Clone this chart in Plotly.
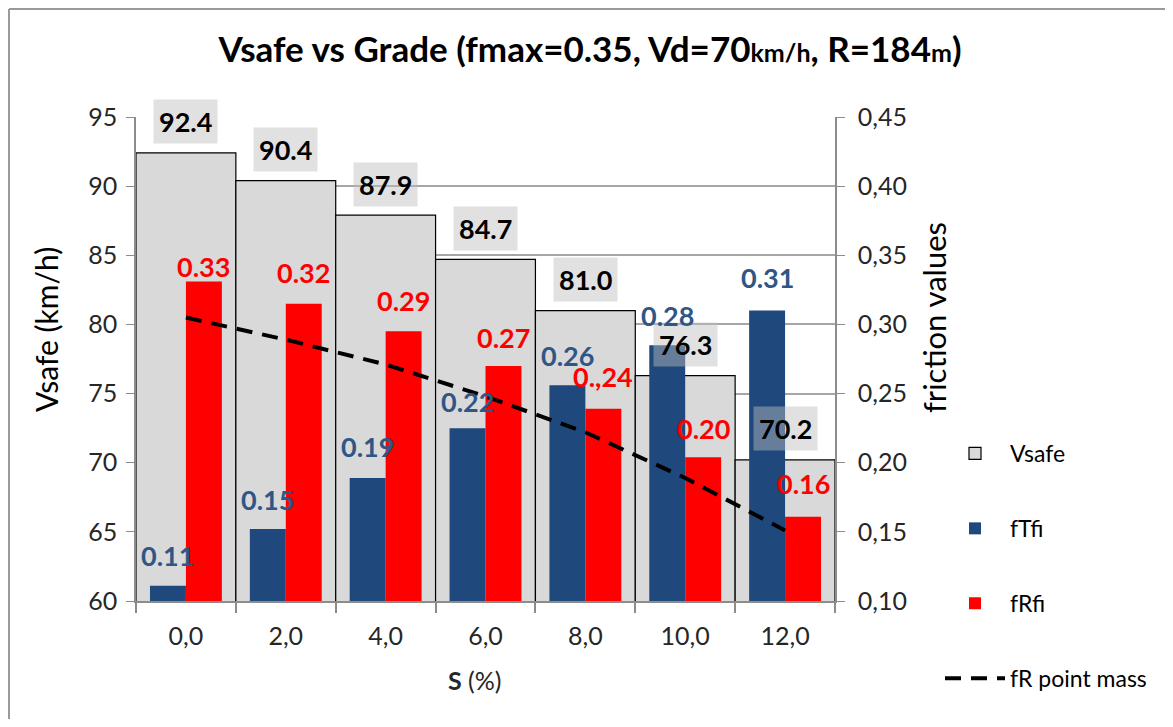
import plotly.graph_objects as go

# ---- data ----
grades = [0, 2, 4, 6, 8, 10, 12]
grade_labels = ["0,0", "2,0", "4,0", "6,0", "8,0", "10,0", "12,0"]
vsafe = [92.4, 90.4, 87.9, 84.7, 81.0, 76.3, 70.2]
vsafe_text = ["92.4", "90.4", "87.9", "84.7", "81.0", "76.3", "70.2"]
fT = [0.111, 0.152, 0.189, 0.225, 0.256, 0.285, 0.31]
fT_text = ["0.11", "0.15", "0.19", "0.22", "0.26", "0.28", "0.31"]
fR = [0.331, 0.315, 0.295, 0.27, 0.239, 0.204, 0.161]
fR_text = ["0.33", "0.32", "0.29", "0.27", "0.,24", "0.20", "0.16"]
fR_point_mass = [0.305, 0.289, 0.271, 0.248, 0.222, 0.189, 0.151]

# label vertical offsets (px above bar top), hand-placed in the original
fT_shift = [30, 30, 31, 27, 30, 30, 33]
fR_shift = [15, 31, 31, 28, 32, 29, 33]

FONT = "Lato, 'Open Sans', sans-serif"
BLUE = "#1f497d"
RED = "#ff0000"
GREY = "#d9d9d9"

# the page body has an 8px margin; size the figure so it fits the window
OFF = 8
W, H = 1173 - 2 * OFF, 727 - 2 * OFF
PW, PH = 699, 484
ML, MT = 136 - OFF, 117 - OFF
MR, MB = W - ML - PW, H - MT - PH

def px_x(px):
    return (px - OFF - ML) / PW

def px_y(py):
    return (H - MB - (py - OFF)) / PH

fig = go.Figure()

fig.add_trace(go.Bar(
    x=grades, y=vsafe, name="Vsafe", width=2, offset=-1,
    marker=dict(color=GREY, line=dict(color="black", width=1.2)),
    yaxis="y", legendgroup="a",
))
fig.add_trace(go.Bar(
    x=grades, y=fT, name="fTfi", width=0.72, offset=-0.72,
    marker=dict(color=BLUE, line=dict(width=0)),
    yaxis="y2", legendgroup="b",
))
fig.add_trace(go.Bar(
    x=grades, y=fR, name="fRfi", width=0.72, offset=0,
    marker=dict(color=RED, line=dict(width=0)),
    yaxis="y2", legendgroup="c",
))
fig.add_trace(go.Scatter(
    x=grades, y=fR_point_mass, name="fR point mass", mode="lines",
    line=dict(color="black", width=4, dash="16px,10px"),
    yaxis="y2", legendgroup="d",
))

annotations = []
for g, v, t in zip(grades, vsafe, vsafe_text):
    annotations.append(dict(
        x=g, y=v, xref="x", yref="y", text=t, showarrow=False,
        yshift=31, font=dict(family=FONT, size=27, color="black", weight="bold"),
        bgcolor="rgba(190,190,190,0.46)", borderpad=5,
    ))
for g, v, t, s in zip(grades, fT, fT_text, fT_shift):
    annotations.append(dict(
        x=g - 0.36, y=v, xref="x", yref="y2", text=t, showarrow=False,
        yshift=s, font=dict(family=FONT, size=27, color="#2e5687", weight="bold"),
    ))
for g, v, t, s in zip(grades, fR, fR_text, fR_shift):
    annotations.append(dict(
        x=g + 0.36, y=v, xref="x", yref="y2", text=t, showarrow=False,
        yshift=s, font=dict(family=FONT, size=27, color=RED, weight="bold"),
    ))

# axis titles
annotations.append(dict(
    x=px_x(475), y=px_y(680), xref="paper", yref="paper", showarrow=False,
    xanchor="center", yanchor="middle",
    text="<b>S</b> (%)", font=dict(family=FONT, size=25, color="#262626"),
))
annotations.append(dict(
    x=px_x(46), y=px_y(330), xref="paper", yref="paper", showarrow=False,
    xanchor="center", yanchor="middle", textangle=-90,
    text="Vsafe (km/h)", font=dict(family=FONT, size=30, color="black"),
))
annotations.append(dict(
    x=px_x(934), y=px_y(318), xref="paper", yref="paper", showarrow=False,
    xanchor="center", yanchor="middle", textangle=-90,
    text="friction values", font=dict(family=FONT, size=31, color="black"),
))

fig.update_layout(
    width=W, height=H,
    margin=dict(l=ML, r=MR, t=MT, b=MB, autoexpand=False),
    paper_bgcolor="white", plot_bgcolor="white",
    barmode="overlay",
    separators=",.",
    font=dict(family=FONT, size=25, color="#262626"),
    title=dict(
        text="Vsafe vs Grade (fmax=0.35, Vd=70<span style='font-size:25px'>km/h</span>, "
             "R=184<span style='font-size:25px'>m</span>)",
        x=(590 - OFF) / W, xanchor="center", y=1 - (50 - OFF) / H, yanchor="middle",
        font=dict(family=FONT, size=35, color="black", weight="bold"),
    ),
    xaxis=dict(
        range=[-1, 13], tickvals=grades, ticktext=grade_labels,
        showgrid=False, zeroline=False, ticks="",
        showline=True, linecolor="#8c8c8c", linewidth=1.5,
        tickfont=dict(size=25), ticklabelstandoff=12,
        minor=dict(tick0=-1, dtick=2, ticks="outside", ticklen=10,
                   tickcolor="#8c8c8c", tickwidth=1.5, showgrid=False),
    ),
    yaxis=dict(
        range=[60, 95], dtick=5, tick0=60,
        showgrid=True, gridcolor="#a6a6a6", gridwidth=1.5,
        showline=True, linecolor="#8c8c8c", linewidth=1.5,
        ticks="outside", ticklen=8, tickcolor="#8c8c8c",
        zeroline=False, tickfont=dict(size=25), ticklabelstandoff=4,
    ),
    yaxis2=dict(
        range=[0.10, 0.45], dtick=0.05, tick0=0.10, overlaying="y", side="right",
        tickformat=".2f",
        showgrid=False, zeroline=False,
        showline=True, linecolor="#8c8c8c", linewidth=1.5,
        ticks="outside", ticklen=8, tickcolor="#8c8c8c",
        tickfont=dict(size=25), ticklabelstandoff=8,
    ),
    legend=dict(
        x=px_x(940), y=px_y(432), xanchor="left", yanchor="top",
        font=dict(family=FONT, size=23, color="black"),
        tracegroupgap=42, itemwidth=60, traceorder="grouped",
        bgcolor="rgba(0,0,0,0)",
    ),
    annotations=annotations,
    shapes=[
        dict(type="line", xref="paper", yref="paper",
             x0=px_x(9), x1=px_x(9), y0=px_y(740), y1=px_y(9),
             line=dict(color="#9a9a9a", width=2)),
        dict(type="line", xref="paper", yref="paper",
             x0=px_x(9), x1=px_x(1190), y0=px_y(9), y1=px_y(9),
             line=dict(color="#9a9a9a", width=2)),
    ],
)

fig.write_html("out.html")
